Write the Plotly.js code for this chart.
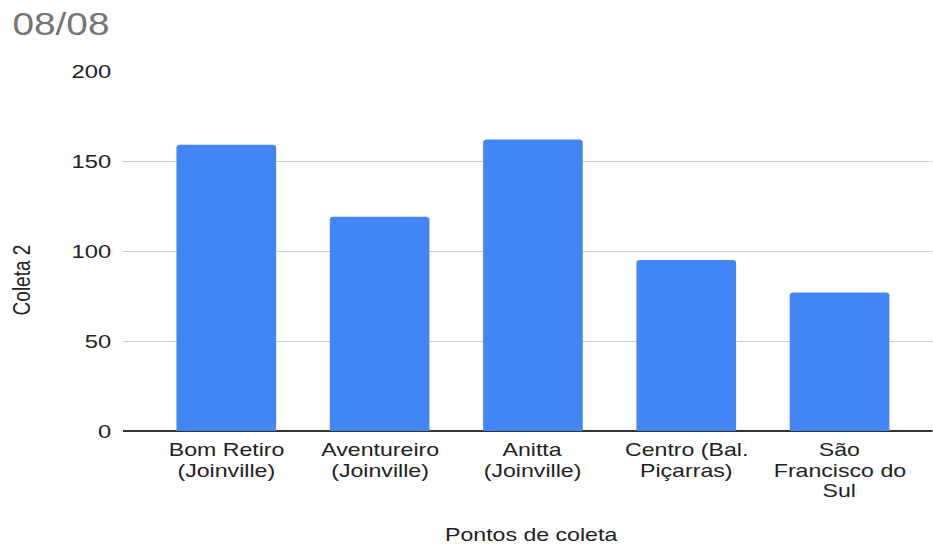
<!DOCTYPE html>
<html>
<head>
<meta charset="utf-8">
<script src="https://cdn.plot.ly/plotly-3.0.1.min.js"></script>
<style>
  html, body { margin: 0; padding: 0; background: #fff; overflow: hidden; }
  /* the chart is laid out narrower and widened horizontally */
  #chart { width: 746.4px; height: 545px; transform: scaleX(1.25); transform-origin: 0 0; }
</style>
</head>
<body>
<div id="chart"></div>
<script>
// Collection points (each label split into its display lines)
const categoryLines = [
  ["Bom Retiro", "(Joinville)"],
  ["Aventureiro", "(Joinville)"],
  ["Anitta", "(Joinville)"],
  ["Centro (Bal.", "Piçarras)"],
  ["São", "Francisco do", "Sul"]
];
const categories = categoryLines.map(l => l.join(" "));

// Second collection values
const coleta2 = [159, 119, 162, 95, 77];

// Y axis ticks
const yTicks = [0, 50, 100, 150, 200];

const chartTitle = "08/08";
const xTitle = "Pontos de coleta";
const yTitle = "Coleta 2";

const FONT = "Liberation Sans, Arial, sans-serif";

// category tick labels, one annotation per line for tight line spacing
const tickAnnotations = [];
categoryLines.forEach((lines, i) => {
  lines.forEach((txt, j) => {
    tickAnnotations.push({
      x: categories[i], xref: "x",
      y: 0, yref: "paper",
      yanchor: "top", xanchor: "center",
      yshift: -6 - 20.5 * j,
      text: txt, showarrow: false,
      font: { family: FONT, size: 18.5, color: "#222" }
    });
  });
});

const trace = {
  type: "bar",
  x: categories,
  y: coleta2,
  marker: { color: "#4285F4", cornerradius: 3 },
  hoverinfo: "x+y"
};

const layout = {
  width: 746.4,
  height: 545,
  margin: { l: 97.6, r: 0, t: 70.5, b: 114.3 },
  paper_bgcolor: "#fff",
  plot_bgcolor: "#fff",
  showlegend: false,
  bargap: 0.35,
  font: { family: FONT, color: "#222" },
  title: {
    text: chartTitle,
    font: { family: FONT, size: 31, color: "#757575" },
    x: 0, xref: "paper", xanchor: "left",
    y: 1, yref: "container", yanchor: "top",
    pad: { l: -88, t: 13 }
  },
  xaxis: {
    type: "category",
    range: [-0.677, 4.606],
    showticklabels: false,
    showgrid: false,
    zeroline: false,
    showline: false,
    ticks: ""
  },
  yaxis: {
    range: [0, 200],
    tickvals: yTicks,
    ticktext: yTicks.map(String),
    tickfont: { family: FONT, size: 19, color: "#222" },
    ticks: "",
    ticklabelstandoff: 8,
    showgrid: true,
    gridcolor: "#cccccc",
    gridwidth: 1,
    zeroline: true,
    zerolinecolor: "#333333",
    zerolinewidth: 1.5,
    showline: false
  },
  annotations: tickAnnotations.concat([
    {
      text: xTitle, showarrow: false,
      x: 0.5, xref: "paper", xanchor: "center", xshift: 3.2,
      y: 0, yref: "paper", yanchor: "top", yshift: -91,
      font: { family: FONT, size: 18.5, color: "#222" }
    },
    {
      text: yTitle, showarrow: false, textangle: -90,
      x: 0, xref: "paper", xanchor: "center", xshift: -80.6,
      y: 0.5, yref: "paper", yanchor: "middle", yshift: -29,
      font: { family: FONT, size: 19, color: "#222" }
    }
  ])
};

Plotly.newPlot("chart", [trace], layout, { displayModeBar: false, staticPlot: true });
</script>
</body>
</html>
